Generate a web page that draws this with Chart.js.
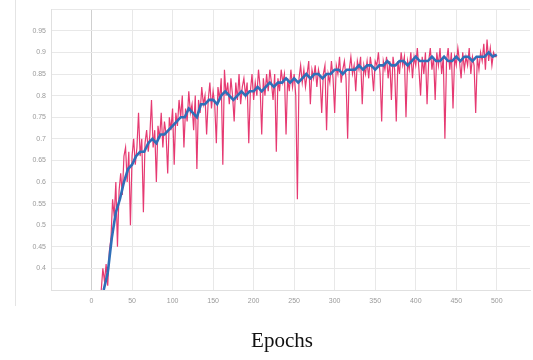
<!DOCTYPE html>
<html>
<head>
<meta charset="utf-8">
<script src="https://cdn.jsdelivr.net/npm/chart.js@4"></script>
<style>
  html, body { margin: 0; padding: 0; background: #fff; }
  #wrap { position: relative; width: 533px; height: 360px; overflow: hidden; }
  #frame { position: absolute; left: 15px; top: 0; width: 0; height: 306px; border-left: 1px solid #e4e4e4; }
  #xtitle { position: absolute; left: 232px; width: 100px; top: 328px; text-align: center;
            font-family: "Liberation Serif", "DejaVu Serif", serif; font-size: 21px; color: #111; }
</style>
</head>
<body>
<div id="wrap">
  <canvas id="c" width="533" height="360"></canvas>
  <div id="frame"></div>
  <div id="xtitle">Epochs</div>
</div>
<script>
// Raw accuracy (pink), one value every 2 epochs starting at epoch 12
const rawStartEpoch = 12;
const rawStepEpochs = 2;
const rawAccuracy = [
  0.35, 0.40, 0.37, 0.41, 0.36, 0.44, 0.47, 0.56, 0.52, 0.60,
  0.45, 0.58, 0.62, 0.57, 0.66, 0.68, 0.60, 0.67, 0.50, 0.66,
  0.70, 0.64, 0.68, 0.76, 0.66, 0.70, 0.53, 0.69, 0.72, 0.67,
  0.71, 0.79, 0.68, 0.72, 0.60, 0.73, 0.70, 0.76, 0.68, 0.74,
  0.71, 0.62, 0.75, 0.72, 0.77, 0.64, 0.76, 0.73, 0.79, 0.75,
  0.80, 0.68, 0.77, 0.74, 0.81, 0.76, 0.78, 0.72, 0.80, 0.63,
  0.79, 0.76, 0.82, 0.78, 0.80, 0.71, 0.79, 0.83, 0.77, 0.81,
  0.78, 0.69, 0.82, 0.79, 0.84, 0.64, 0.86, 0.80, 0.83, 0.78,
  0.84, 0.80, 0.74, 0.83, 0.79, 0.85, 0.78, 0.82, 0.84, 0.80,
  0.83, 0.69, 0.81, 0.85, 0.79, 0.83, 0.80, 0.86, 0.82, 0.71,
  0.84, 0.80, 0.85, 0.81, 0.86, 0.83, 0.79, 0.85, 0.67, 0.84,
  0.81, 0.86, 0.83, 0.85, 0.71, 0.84, 0.81, 0.86, 0.82, 0.85,
  0.80, 0.56, 0.84, 0.87, 0.83, 0.86, 0.82, 0.85, 0.88, 0.78,
  0.86, 0.84, 0.87, 0.82, 0.86, 0.84, 0.76, 0.85, 0.87, 0.72,
  0.85, 0.83, 0.88, 0.84, 0.76, 0.87, 0.85, 0.89, 0.83, 0.86,
  0.88, 0.84, 0.70, 0.86, 0.89, 0.85, 0.87, 0.81, 0.88, 0.86,
  0.89, 0.78, 0.87, 0.85, 0.88, 0.84, 0.89, 0.86, 0.81, 0.88,
  0.87, 0.90, 0.85, 0.74, 0.88, 0.86, 0.89, 0.84, 0.88, 0.79,
  0.89, 0.86, 0.74, 0.88, 0.85, 0.90, 0.87, 0.89, 0.75, 0.88,
  0.86, 0.90, 0.84, 0.89, 0.87, 0.91, 0.86, 0.80, 0.89, 0.85,
  0.90, 0.78, 0.88, 0.91, 0.86, 0.89, 0.79, 0.90, 0.87, 0.91,
  0.85, 0.89, 0.70, 0.88, 0.91, 0.86, 0.90, 0.77, 0.89, 0.87,
  0.91, 0.88, 0.84, 0.90, 0.86, 0.89, 0.87, 0.91, 0.85, 0.89,
  0.87, 0.76, 0.89, 0.86, 0.90, 0.88, 0.92, 0.86, 0.93, 0.88,
  0.91, 0.87, 0.90, 0.89, 0.89
];

// Smoothed accuracy (blue), one value every 5 epochs starting at epoch 15
const smoothStartEpoch = 15;
const smoothStepEpochs = 5;
const smoothAccuracy = [
  0.35, 0.39, 0.47, 0.53, 0.56, 0.60, 0.63, 0.64, 0.66, 0.67,
  0.67, 0.69, 0.70, 0.69, 0.71, 0.71, 0.72, 0.73, 0.74, 0.75,
  0.75, 0.77, 0.76, 0.75, 0.78, 0.78, 0.79, 0.79, 0.78, 0.80,
  0.81, 0.80, 0.79, 0.80, 0.81, 0.80, 0.81, 0.81, 0.82, 0.81,
  0.82, 0.83, 0.82, 0.83, 0.83, 0.84, 0.83, 0.84, 0.83, 0.84,
  0.85, 0.84, 0.85, 0.85, 0.84, 0.85, 0.85, 0.86, 0.86, 0.85,
  0.86, 0.86, 0.86, 0.87, 0.86, 0.87, 0.87, 0.86, 0.87, 0.87,
  0.88, 0.87, 0.87, 0.88, 0.88, 0.87, 0.88, 0.89, 0.88, 0.88,
  0.88, 0.89, 0.88, 0.88, 0.89, 0.88, 0.88, 0.89, 0.88, 0.89,
  0.89, 0.88, 0.89, 0.89, 0.89, 0.90, 0.89, 0.895
];

const xTickStep = 50;
const yTickStep = 0.05;
const xMin = -50, xMax = 541;
const yMin = 0.35, yMax = 1.0;
const hiddenXTicks = [-50];
const hiddenYTicks = [0.35, 1.0];

const rawPoints = rawAccuracy.map((v, i) => ({ x: rawStartEpoch + i * rawStepEpochs, y: v }));
const smoothPoints = smoothAccuracy.map((v, i) => ({ x: smoothStartEpoch + i * smoothStepEpochs, y: v }));

const tickFont = { family: '"Liberation Sans", Arial, sans-serif', size: 7 };

new Chart(document.getElementById('c'), {
  type: 'line',
  data: {
    datasets: [
      { data: smoothPoints, borderColor: '#2f6fb8', borderWidth: 2.6, pointRadius: 0, tension: 0, order: 0 },
      { data: rawPoints, borderColor: '#e63a72', borderWidth: 1.2, pointRadius: 0, tension: 0, order: 1 }
    ]
  },
  options: {
    responsive: false,
    animation: false,
    layout: { padding: { top: 7, right: 3, left: 0, bottom: 0 } },
    plugins: { legend: { display: false }, tooltip: { enabled: false } },
    scales: {
      x: {
        type: 'linear', min: xMin, max: xMax,
        afterBuildTicks: s => { s.ticks = s.ticks.filter(t => t.value % xTickStep === 0); },
        ticks: {
          stepSize: xTickStep, font: tickFont, color: '#9a9a9a', padding: 7, maxRotation: 0,
          callback: v => hiddenXTicks.includes(v) ? '' : v
        },
        grid: {
          drawTicks: false,
          color: ctx => (ctx.tick && ctx.tick.value === 0) ? '#cfcfcf' : '#e8e8e8',
          lineWidth: 1
        },
        border: { display: true, color: '#e0e0e0' },
        afterFit: s => { s.height = 70; }
      },
      y: {
        min: yMin, max: yMax,
        ticks: {
          stepSize: yTickStep, font: tickFont, color: '#9a9a9a', padding: 5,
          callback: v => {
            const r = Math.round(v * 100) / 100;
            return hiddenYTicks.some(h => Math.abs(h - r) < 1e-9) ? '' : String(r);
          }
        },
        grid: { drawTicks: false, color: '#e8e8e8', lineWidth: 1 },
        border: { display: true, color: '#e0e0e0' },
        afterFit: s => { s.width = 51; }
      }
    }
  }
});
</script>
</body>
</html>
